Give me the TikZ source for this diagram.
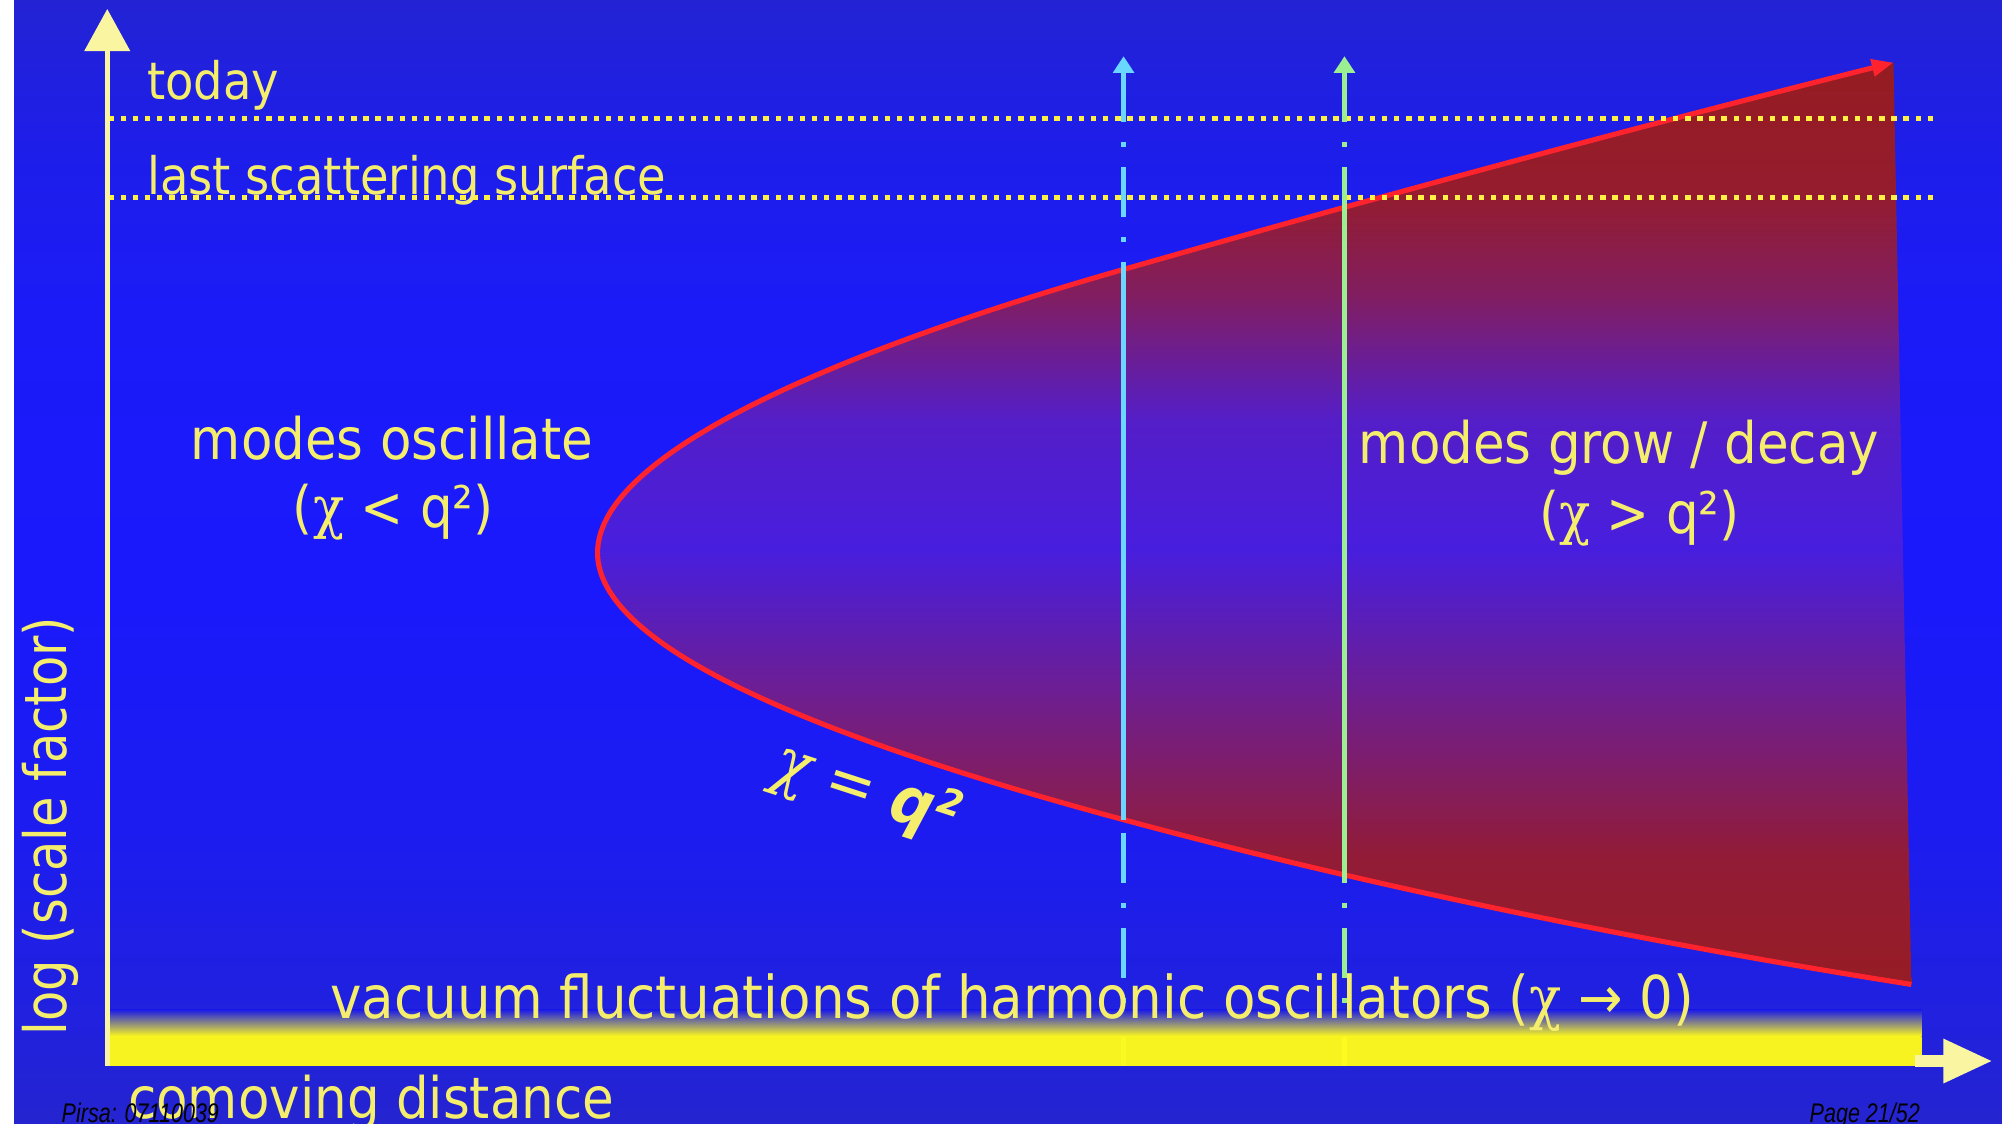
\documentclass[tikz,border=0pt]{standalone}
\usepackage{fontspec}
\setmainfont{DejaVu Sans}[FakeStretch=0.9]
\newfontfamily\chifont{DejaVu Serif}[FakeStretch=0.9]
\newfontfamily\axisfont{DejaVu Sans}[FakeStretch=0.85]
\newfontfamily\pagefont{Liberation Sans}[FakeStretch=0.8]
\usetikzlibrary{arrows.meta,positioning}

\definecolor{labelyellow}{RGB}{245,238,108}
\definecolor{axisyellow}{RGB}{250,245,160}
\definecolor{baryellow}{RGB}{255,252,25}
\definecolor{dotyellow}{RGB}{255,240,70}
\definecolor{curvered}{RGB}{255,35,45}
\definecolor{modecyan}{RGB}{105,215,255}
\definecolor{modegreen}{RGB}{155,238,145}
\definecolor{glowblue}{RGB}{30,30,228}

% slide background, bottom to top
\pgfdeclareverticalshading{slidebg}{100bp}{%
  color(0bp)=(rgb,255:red,36;green,36;blue,208);
  color(25bp)=(rgb,255:red,36;green,36;blue,208);
  color(29.5bp)=(rgb,255:red,33;green,33;blue,222);
  color(38bp)=(rgb,255:red,28;green,28;blue,240);
  color(49bp)=(rgb,255:red,25;green,25;blue,252);
  color(61bp)=(rgb,255:red,27;green,27;blue,248);
  color(69bp)=(rgb,255:red,30;green,30;blue,232);
  color(75bp)=(rgb,255:red,35;green,35;blue,212);
  color(100bp)=(rgb,255:red,35;green,35;blue,212)}

% region where the modes grow
\pgfdeclareverticalshading{growfill}{100bp}{%
  color(0bp)=(rgb,255:red,150;green,28;blue,36);
  color(25bp)=(rgb,255:red,150;green,28;blue,36);
  color(32bp)=(rgb,255:red,146;green,28;blue,55);
  color(40.3bp)=(rgb,255:red,112;green,30;blue,140);
  color(48.6bp)=(rgb,255:red,72;green,30;blue,222);
  color(55.6bp)=(rgb,255:red,84;green,30;blue,200);
  color(62.5bp)=(rgb,255:red,130;green,30;blue,95);
  color(68bp)=(rgb,255:red,148;green,28;blue,45);
  color(75bp)=(rgb,255:red,150;green,28;blue,34);
  color(100bp)=(rgb,255:red,150;green,28;blue,34)}

\begin{document}
\begin{tikzpicture}[x=0.02cm, y=-0.02cm,
    slidetext/.style={text=labelyellow, inner sep=0pt},
    lowtext/.style={font=\fontsize{23}{27}\selectfont},
    midtext/.style={font=\fontsize{25.5}{30}\selectfont},
    dotline/.style={dotyellow, line width=0.08cm, dash pattern=on 0.085cm off 0.105cm},
    modeline/.style={line width=0.07cm, dash pattern=on 0.79cm off 0.31cm on 0.08cm off 0.31cm, {Triangle[length=0.26cm,width=0.32cm]}-},
    modesolid/.style={line width=0.07cm},
    redcurve/.style={curvered, line width=0.08cm, line join=round},
    footer/.style={text=black, inner sep=0pt, font=\pagefont\itshape\fontsize{12}{14}\selectfont}]

    \useasboundingbox (0,0) rectangle (1568,880);
    \fill[white] (0,0) rectangle (11,880);
    \shade[shading=slidebg] (11,0) rectangle (1568,880);

    \def\modecurve{(1497,771) .. controls (1300,740) and (1080,696) .. (880,642)
      .. controls (680,588) and (468,515) .. (468,433)
      .. controls (468,350) and (680,268) .. (880,211)
      .. controls (980,182.5) and (1200,120) .. (1483,49)}

    % chi = q^2 boundary
    \shade[shading=growfill] \modecurve -- cycle;
    \draw[redcurve, -{Triangle[length=0.34cm,width=0.26cm]}] \modecurve;

    % epochs
    \draw[dotline] (85,93) -- (1518,93);
    \draw[dotline] (85,155) -- (1518,155);

    % two modes
    \coordinate (cyantop) at (880,44);
    \coordinate (cyanbot) at (880,835);
    \coordinate (greentop) at (1053,44);
    \coordinate (greenbot) at (1053,835);
    \draw[modeline, modecyan] (cyantop) -- (cyanbot);
    \draw[modeline, modegreen] (greentop) -- (greenbot);
    \draw[modesolid, modecyan] (880,211) -- (880,642);
    \draw[modesolid, modegreen] (1053,156) -- (1053,689);

    % axes
    \coordinate (origin) at (84,835);
    \coordinate (ytip) at (84,7);
    \coordinate (xstub) at (1500,831);
    \coordinate (xtip) at (1561,831);
    \shade[top color=glowblue, bottom color=baryellow] (83,791) rectangle (1505,812);
    \fill[baryellow, opacity=0.96] (83,812) rectangle (1505,835);
    \draw[axisyellow, line width=0.085cm, -{Triangle[length=0.66cm,width=0.7cm]}] (origin) -- (ytip);
    \draw[axisyellow, line width=0.2cm, -{Triangle[length=0.78cm,width=0.64cm]}] (xstub) -- (xtip);

    \node[slidetext, lowtext, anchor=base west] (today) at (115,78) {today};
    \node[slidetext, lowtext, anchor=base west] (lss) at (115,152) {last scattering surface};
    \node[slidetext, midtext, anchor=base] (osc) at (307,360) {modes oscillate};
    \node[slidetext, midtext, anchor=base] (oscrel) at (308,413) {({\chifont χ} < q²)};
    \node[slidetext, midtext, anchor=base] (grow) at (1268,363) {modes grow / decay};
    \node[slidetext, midtext, anchor=base] (growrel) at (1284,418) {({\chifont χ} > q²)};
    \node[slidetext, font=\fontsize{29}{34}\selectfont, rotate=-18] (chiq) at (678,621) {{\chifont\itshape χ} = \textbf{\itshape q²}};
    \node[slidetext, font=\fontsize{26.3}{30}\selectfont, anchor=base] (vacuum) at (793,798) {vacuum fluctuations of harmonic oscillators ({\chifont χ} → 0)};
    \node[slidetext, midtext, anchor=base west] (comoving) at (100,876) {comoving distance};
    \node[slidetext, font=\axisfont\fontsize{26}{30}\selectfont, rotate=90, anchor=base] (logsf) at (52,647) {log (scale factor)};

    \node[footer, anchor=base west] (pirsa) at (48,879) {Pirsa: 07110039};
    \node[footer, anchor=base east] (page) at (1504,879) {Page 21/52};
\end{tikzpicture}
\end{document}
